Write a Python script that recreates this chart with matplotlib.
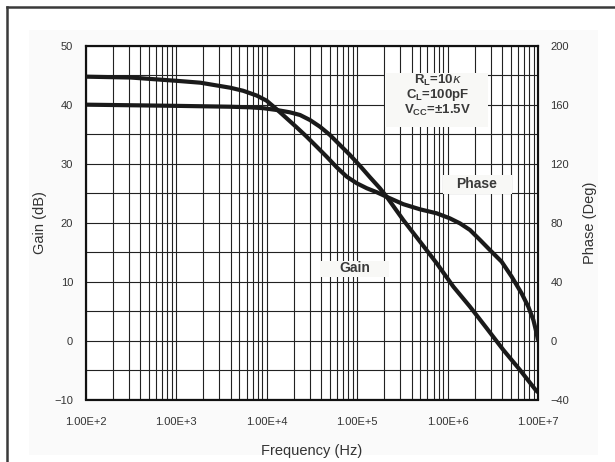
import matplotlib.pyplot as plt
import numpy as np
from matplotlib.patches import Rectangle
from matplotlib.lines import Line2D

plt.rcParams['font.family'] = ['Liberation Sans', 'DejaVu Sans']

# values
gain_freq = [100, 1000, 3940, 6550, 9190, 12900, 18100, 23400, 30100, 38900,
             50100, 64700, 83400, 108000, 139000, 179000, 212000, 324000,
             497000, 759000, 1.16e6, 1.77e6, 2.71e6, 4.14e6, 6.32e6, 9.44e6, 1.0e7]
gain_db = [40.0, 39.8, 39.65, 39.55, 39.4, 39.1, 38.7, 38.25, 37.4, 36.26,
           34.86, 33.16, 31.47, 29.6, 27.68, 25.82, 24.4, 20.44,
           16.76, 13.1, 9.13, 5.74, 2.08, -1.6, -4.99, -8.4, -8.8]

phase_freq = [100, 316, 1000, 1850, 3960, 5520, 7760, 10000, 12900, 16700,
              21500, 27700, 35800, 46100, 59600, 76700, 99100, 128000, 165000,
              212000, 324000, 497000, 759000, 1.06e6, 1.37e6, 1.77e6, 2.29e6,
              2.94e6, 3.96e6, 5.12e6, 6.59e6, 7.82e6, 8.89e6, 9.66e6, 1.0e7]
phase_deg = [179, 178.4, 176.2, 174.9, 171.5, 169.4, 166.2, 162.7, 156.9, 150.7,
             144.6, 138.3, 131.5, 124.7, 117.5, 111.2, 106.7, 103.3, 100.6,
             97.5, 92.5, 89.0, 86.3, 82.9, 79.5, 75.0, 68.2,
             61.4, 53.5, 43.3, 32.0, 22.9, 13.9, 4.9, 0]

freq_ticks = [1e2, 1e3, 1e4, 1e5, 1e6, 1e7]
freq_labels = ['1.00E+2', '1.00E+3', '1.00E+4', '1.00E+5', '1.00E+6', '1.00E+7']
gain_ticks = [-10, 0, 10, 20, 30, 40, 50]
phase_ticks = [-40, 0, 40, 80, 120, 160, 200]

txt = '#333333'
curve = '#1a1a1a'

fig = plt.figure(figsize=(6.15, 4.62), dpi=100, facecolor='white')
W, H = 615.0, 462.0

# light backdrop and frame lines
fig.patches.append(Rectangle((29 / W, 7 / H), 569 / W, 425 / H,
                             transform=fig.transFigure, fc='#fafafa', ec='none', zorder=-5))
fig.lines.append(Line2D([6.5 / W, 1.0], [1 - 6.5 / H, 1 - 6.5 / H],
                        transform=fig.transFigure, color='#3a3a3a', lw=1.8))
fig.lines.append(Line2D([6.5 / W, 6.5 / W], [0.0, 1 - 6.5 / H],
                        transform=fig.transFigure, color='#3a3a3a', lw=1.8))

ax = fig.add_axes([85.7 / W, 1 - 399.5 / H, 452.3 / W, 353.8 / H])
ax.set_facecolor('white')
ax.set_xscale('log')
ax.set_xlim(1e2, 1e7)
ax.set_ylim(-10, 50)
ax.set_yticks(gain_ticks)
ax.set_yticks(np.arange(-10, 51, 5), minor=True)
ax.set_xticks(freq_ticks)
ax.set_xticklabels(freq_labels)
ax.grid(True, which='both', color='#222222', lw=0.8)
ax.tick_params(which='both', length=0, colors=txt, labelsize=8)
ax.tick_params(axis='y', pad=9)
ax.tick_params(axis='x', pad=12.5)
ax.tick_params(axis='x', which='minor', labelbottom=False)
for s in ax.spines.values():
    s.set_linewidth(1.5)
    s.set_color('#111111')

ax.plot(gain_freq, gain_db, color=curve, lw=3.0, solid_capstyle='butt',
        solid_joinstyle='round', zorder=3)
ax.set_xlabel('Frequency (Hz)', fontsize=10.5, color=txt, labelpad=12)
ax.set_ylabel('Gain (dB)', fontsize=10.5, color=txt, labelpad=5)

ax2 = ax.twinx()
ax2.set_ylim(-40, 200)
ax2.set_yticks(phase_ticks)
ax2.tick_params(length=0, colors=txt, labelsize=8, pad=9)
for s in ax2.spines.values():
    s.set_linewidth(1.5)
    s.set_color('#111111')
ax2.plot(phase_freq, phase_deg, color=curve, lw=3.0, solid_capstyle='butt',
         solid_joinstyle='round', zorder=3)
ax2.set_ylabel('Phase (Deg)', fontsize=10.5, color=txt, labelpad=10)

# condition box
ax2.add_patch(Rectangle((0.662, 0.771), 0.227, 0.153, transform=ax2.transAxes,
                        fc='#f8f8f6', ec='none', zorder=4))
cond = [r'R$_\mathregular{L}$=10$\kappa$', r'C$_\mathregular{L}$=100pF',
        r'V$_\mathregular{CC}$=±1.5V']
for i, s in enumerate(cond):
    ax2.text(0.778, 0.902 - i * 0.042, s, transform=ax2.transAxes, ha='center', va='center',
             fontsize=9.5, fontweight='bold', color='#3a3a3a', zorder=5)

ax2.add_patch(Rectangle((0.79, 0.581), 0.153, 0.054, transform=ax2.transAxes,
                        fc='#f8f8f6', ec='none', zorder=4))
ax2.text(0.865, 0.609, 'Phase', transform=ax2.transAxes, ha='center', va='center',
         fontsize=10, fontweight='bold', color='#3a3a3a', zorder=5)

ax2.add_patch(Rectangle((0.518, 0.347), 0.153, 0.045, transform=ax2.transAxes,
                        fc='#f8f8f6', ec='none', zorder=4))
ax2.text(0.594, 0.371, 'Gain', transform=ax2.transAxes, ha='center', va='center',
         fontsize=10, fontweight='bold', color='#3a3a3a', zorder=5)

fig.savefig('out.png', dpi=100, facecolor=fig.get_facecolor())
